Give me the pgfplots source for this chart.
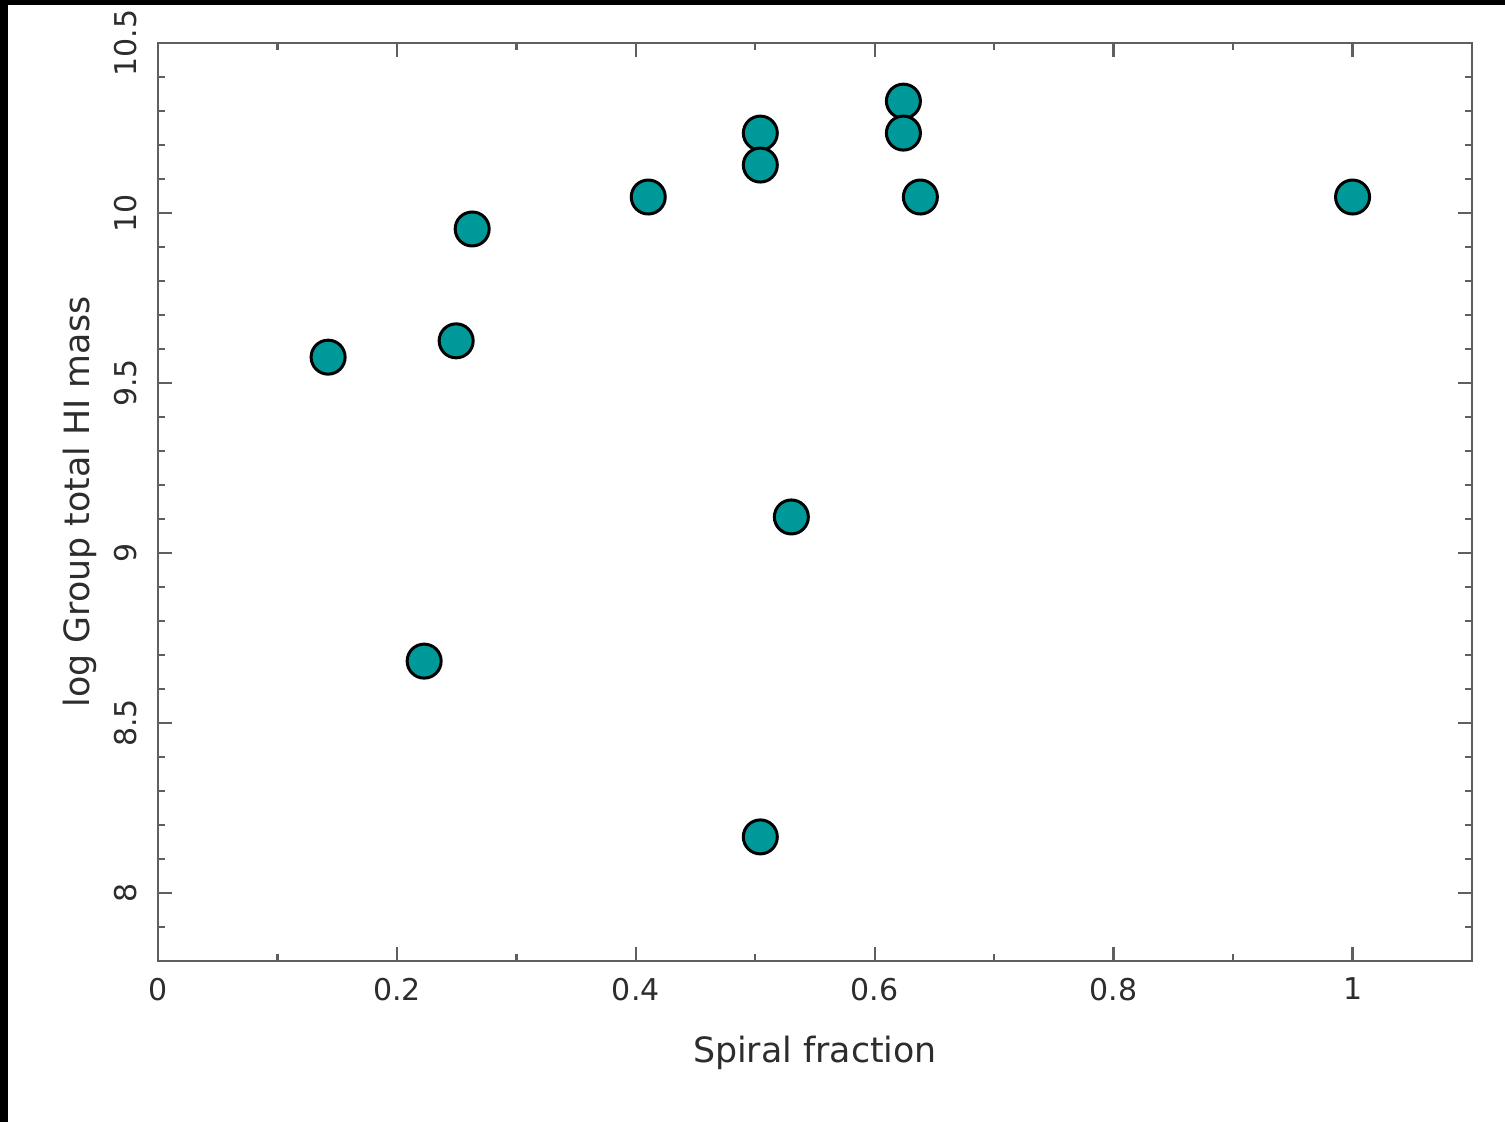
\documentclass[border=0pt]{standalone}
\usepackage{pgfplots}
\pgfplotsset{compat=1.18}
\usepackage{fontspec}
\setmainfont{DejaVu Sans}
\definecolor{teal1}{RGB}{0,153,153}
\definecolor{axgray}{RGB}{95,95,95}
\definecolor{txtgray}{RGB}{45,45,45}
\begin{document}
\begin{tikzpicture}
\fill[black] (0pt,0pt) rectangle (376.25pt,280.5pt);
\fill[white] (2pt,0pt) rectangle (376.25pt,279.25pt);
\begin{axis}[
  at={(39.5pt,40.25pt)}, anchor=south west,
  scale only axis, width=328.5pt, height=229.5pt,
  xmin=0, xmax=1.1, ymin=7.8, ymax=10.5,
  xtick={0,0.2,0.4,0.6,0.8,1},
  minor xtick={0.1,0.3,0.5,0.7,0.9},
  ytick={8,8.5,9,9.5,10,10.5},
  minor ytick={7.9,8.1,8.2,8.3,8.4,8.6,8.7,8.8,8.9,9.1,9.2,9.3,9.4,9.6,9.7,9.8,9.9,10.1,10.2,10.3,10.4},
  axis line style={axgray, line width=0.7pt},
  major tick length=3.5pt, minor tick length=1.75pt,
  every tick/.style={axgray, line width=0.6pt},
  tick label style={font=\fontsize{7.5}{9}\selectfont, text=txtgray},
  /pgf/number format/assume math mode=true,
  xticklabel style={anchor=north, inner sep=0pt}, xticklabel shift=4pt,
  yticklabel style={rotate=90, anchor=south, inner sep=0pt}, yticklabel shift=5pt,
  xlabel={Spiral fraction}, ylabel={log Group total HI mass},
  every axis x label/.style={at={(axis description cs:0.5,-0.1002)}, anchor=center, font=\fontsize{8.7}{10}\selectfont, text=txtgray},
  every axis y label/.style={at={(axis description cs:-0.0594,0.5)}, rotate=90, anchor=center, font=\fontsize{8.7}{10}\selectfont, text=txtgray},
]
\addplot[only marks, mark=*, mark size=4.25pt, mark options={fill=teal1, draw=black, line width=0.75pt}] coordinates {
(0.1424,9.576)
(0.2228,8.682)
(0.2496,9.624)
(0.2630,9.953)
(0.4104,10.047)
(0.5042,10.235)
(0.5042,10.141)
(0.5302,9.106)
(0.5042,8.165)
(0.6240,10.329)
(0.6240,10.235)
(0.6382,10.047)
(1.0,10.047)
};
\end{axis}
\end{tikzpicture}
\end{document}
